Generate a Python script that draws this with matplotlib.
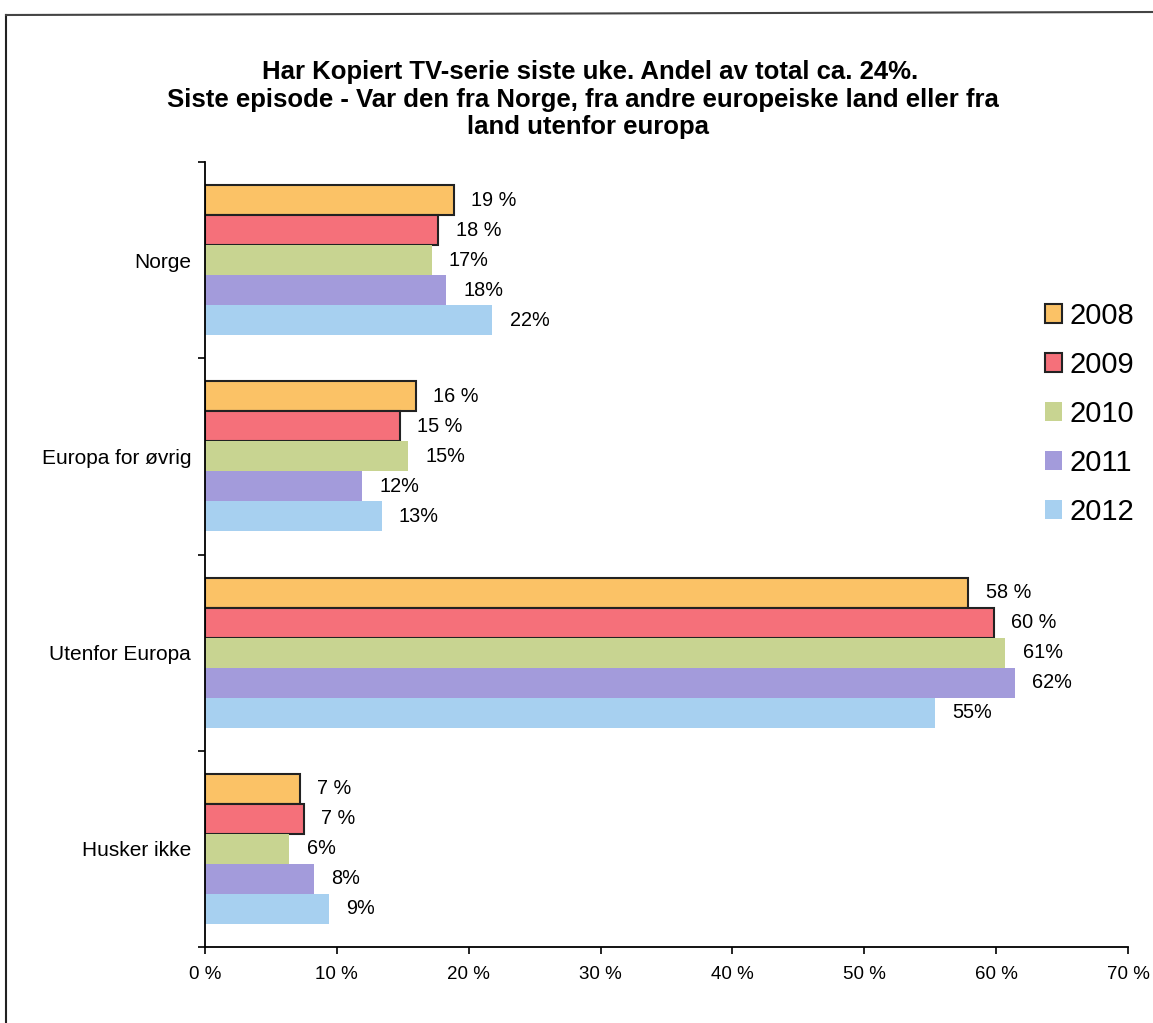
import matplotlib.pyplot as plt
from matplotlib.lines import Line2D
from matplotlib.patches import Patch

plt.rcParams['font.family'] = ['Liberation Sans', 'DejaVu Sans']

# data
categories = ["Norge", "Europa for øvrig", "Utenfor Europa", "Husker ikke"]
years = ["2008", "2009", "2010", "2011", "2012"]
values = {
    "2008": [18.9, 16.0, 57.9, 7.2],
    "2009": [17.7, 14.8, 59.8, 7.5],
    "2010": [17.2, 15.4, 60.7, 6.4],
    "2011": [18.3, 11.9, 61.4, 8.3],
    "2012": [21.8, 13.4, 55.4, 9.4],
}
bar_labels = {
    "2008": ["19 %", "16 %", "58 %", "7 %"],
    "2009": ["18 %", "15 %", "60 %", "7 %"],
    "2010": ["17%", "15%", "61%", "6%"],
    "2011": ["18%", "12%", "62%", "8%"],
    "2012": ["22%", "13%", "55%", "9%"],
}
colors = ["#FBC266", "#F5707A", "#C8D491", "#A39BDB", "#A7D0F0"]
edged = ["2008", "2009"]
x_ticks = [0, 10, 20, 30, 40, 50, 60, 70]

fig = plt.figure(figsize=(11.53, 10.23), dpi=100)
ax = fig.add_axes([205 / 1153, 1 - 947 / 1023, 923 / 1153, 785 / 1023])

h = 0.153
for i, yr in enumerate(years):
    pos = [c + (i - 2) * h for c in range(len(categories))]
    ec = "#222222" if yr in edged else "none"
    lw = 1.5 if yr in edged else 0
    ax.barh(pos, values[yr], height=h, color=colors[i], edgecolor=ec, linewidth=lw)
    for p, v, lab in zip(pos, values[yr], bar_labels[yr]):
        ax.text(v + 1.3, p, lab, va="center", ha="left", fontsize=14.3)

ax.set_xlim(0, 70)
ax.set_ylim(3.5, -0.5)
ax.spines["top"].set_visible(False)
ax.spines["right"].set_visible(False)
ax.spines["left"].set_linewidth(1.3)
ax.spines["bottom"].set_linewidth(1.3)

ax.set_xticks(x_ticks)
ax.set_xticklabels([f"{t} %" for t in x_ticks], fontsize=13.5)
ax.tick_params(axis="x", direction="out", length=5, width=1.2, pad=9)

ax.set_yticks([-0.5, 0.5, 1.5, 2.5, 3.5])
ax.set_yticklabels([])
ax.tick_params(axis="y", which="major", direction="out", length=5, width=1.2)
ax.set_yticks(range(len(categories)), minor=True)
ax.set_yticklabels(categories, minor=True, fontsize=15)
ax.tick_params(axis="y", which="minor", length=0, pad=10)

handles = []
for i, yr in enumerate(years):
    ec = "#222222" if yr in edged else colors[i]
    handles.append(Patch(facecolor=colors[i], edgecolor=ec, linewidth=1.5 if yr in edged else 0))
fig.legend(handles, years, loc="upper left", bbox_to_anchor=(1033 / 1153, 1 - 290 / 1023),
           frameon=False, fontsize=21, handlelength=0.6, handleheight=0.6,
           handletextpad=0.25, labelspacing=0.72, borderaxespad=0)

fig.text(0.512, 1 - 72 / 1023, "Har Kopiert TV-serie siste uke. Andel av total ca. 24%.",
         ha="center", va="center", fontsize=18.5, fontweight="bold")
fig.text(0.506, 1 - 100 / 1023, "Siste episode - Var den fra Norge, fra andre europeiske land eller fra",
         ha="center", va="center", fontsize=18.5, fontweight="bold")
fig.text(0.51, 1 - 127 / 1023, "land utenfor europa",
         ha="center", va="center", fontsize=18.5, fontweight="bold")

# outer frame (cut off at right and bottom)
fig.add_artist(Line2D([6 / 1153, 6 / 1153], [0, 1 - 15 / 1023], color="#222222", lw=1.5))
fig.add_artist(Line2D([6 / 1153, 1], [1 - 15 / 1023, 1 - 12 / 1023], color="#444444", lw=1.5))

fig.savefig("out.png", dpi=100)
